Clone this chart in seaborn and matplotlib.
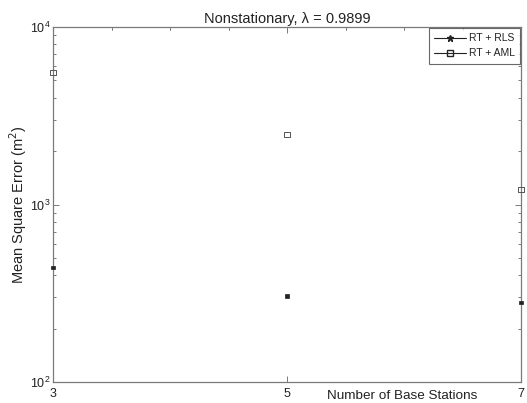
import numpy as np
import pandas as pd
import matplotlib
matplotlib.use("Agg")
import matplotlib.pyplot as plt
from matplotlib.lines import Line2D
from matplotlib.ticker import FixedLocator, LogLocator, NullFormatter
import seaborn as sns

# Mean square error per number of base stations
stations = [3, 5, 7]
mse_rls = [443, 305, 280]
mse_aml = [5520, 2490, 1210]
series_names = ["RT + RLS", "RT + AML"]
x_ticks = [3, 5, 7]

sns.set_theme(style="white")
plt.rcParams["font.family"] = ["Liberation Sans", "DejaVu Sans"]
plt.rcParams["font.size"] = 9

df = pd.DataFrame({
    "stations": stations * 2,
    "mse": mse_rls + mse_aml,
    "method": [series_names[0]] * 3 + [series_names[1]] * 3,
})

fig = plt.figure(figsize=(5.27, 4.03), dpi=100)
ax = fig.add_axes([53 / 527, 1 - 382 / 403, (521 - 53) / 527, (382 - 27) / 403])

axis_gray = "#7a7a7a"
ink = "#222222"

sns.scatterplot(
    data=df, x="stations", y="mse", hue="method", style="method",
    markers={series_names[0]: "s", series_names[1]: "s"},
    palette={series_names[0]: ink, series_names[1]: "none"},
    legend=False, ax=ax, linewidth=0.9, s=6, clip_on=False, zorder=3,
)
# solid small squares for RLS, hollow squares for AML
coll = ax.collections[0]
is_rls = [m == series_names[0] for m in df["method"]]
coll.set_sizes([6 if r else 14 for r in is_rls])
coll.set_edgecolors([ink if r else "#555555" for r in is_rls])
coll.set_facecolors([ink if r else "none" for r in is_rls])
coll.set_linewidths([0.5 if r else 0.7 for r in is_rls])

ax.set_yscale("log")
ax.set_ylim(1e2, 1e4)
ax.set_xlim(3, 7)
ax.xaxis.set_major_locator(FixedLocator(x_ticks))
ax.set_xticklabels([str(t) for t in x_ticks])
ax.yaxis.set_major_locator(LogLocator(base=10, numticks=5))
ax.yaxis.set_minor_locator(LogLocator(base=10, subs=np.arange(2, 10), numticks=20))
ax.yaxis.set_minor_formatter(NullFormatter())

ax.tick_params(axis="both", which="both", direction="in", colors=axis_gray,
               labelcolor=ink, labelsize=9, width=0.7)
ax.tick_params(axis="y", which="major", length=4, left=True, right=True, pad=2)
ax.tick_params(axis="y", which="minor", length=2, left=True, right=True)
ax.tick_params(axis="x", which="major", length=4, bottom=True, top=True, pad=4)

# extra half-step tick marks along the top edge
for xv in np.arange(3.5, 7, 0.5):
    ax.plot([xv, xv], [1e4, 10 ** 3.985], color=axis_gray, lw=0.7, clip_on=False)

for sp in ax.spines.values():
    sp.set_color(axis_gray)
    sp.set_linewidth(0.9)

ax.set_title("Nonstationary, λ = 0.9899", fontsize=10.5, color=ink, pad=3)
ax.set_ylabel("Mean Square Error (m$^2$)", fontsize=10.5, color=ink)
ax.yaxis.set_label_coords(-(53 - 18) / 468, 0.5)
ax.yaxis.label.set_verticalalignment("center")
ax.set_xlabel("Number of Base Stations", fontsize=9.7, color=ink)
ax.xaxis.set_label_coords((402 - 53) / 468, -0.022)
ax.xaxis.label.set_verticalalignment("top")

handles = [
    Line2D([], [], color=ink, lw=0.8, marker="*", markersize=5, markerfacecolor=ink),
    Line2D([], [], color=ink, lw=0.8, marker="s", markersize=4.5, markerfacecolor="none"),
]
leg = ax.legend(handles, series_names, loc="upper right", fontsize=7.5,
                frameon=True, fancybox=False, borderpad=0.5, handlelength=3.0,
                handletextpad=0.3, labelspacing=0.5, borderaxespad=0.1)
leg.get_frame().set_edgecolor("#444444")
leg.get_frame().set_linewidth(0.8)
for t in leg.get_texts():
    t.set_color(ink)

fig.savefig("out.png", dpi=100, facecolor="white")
